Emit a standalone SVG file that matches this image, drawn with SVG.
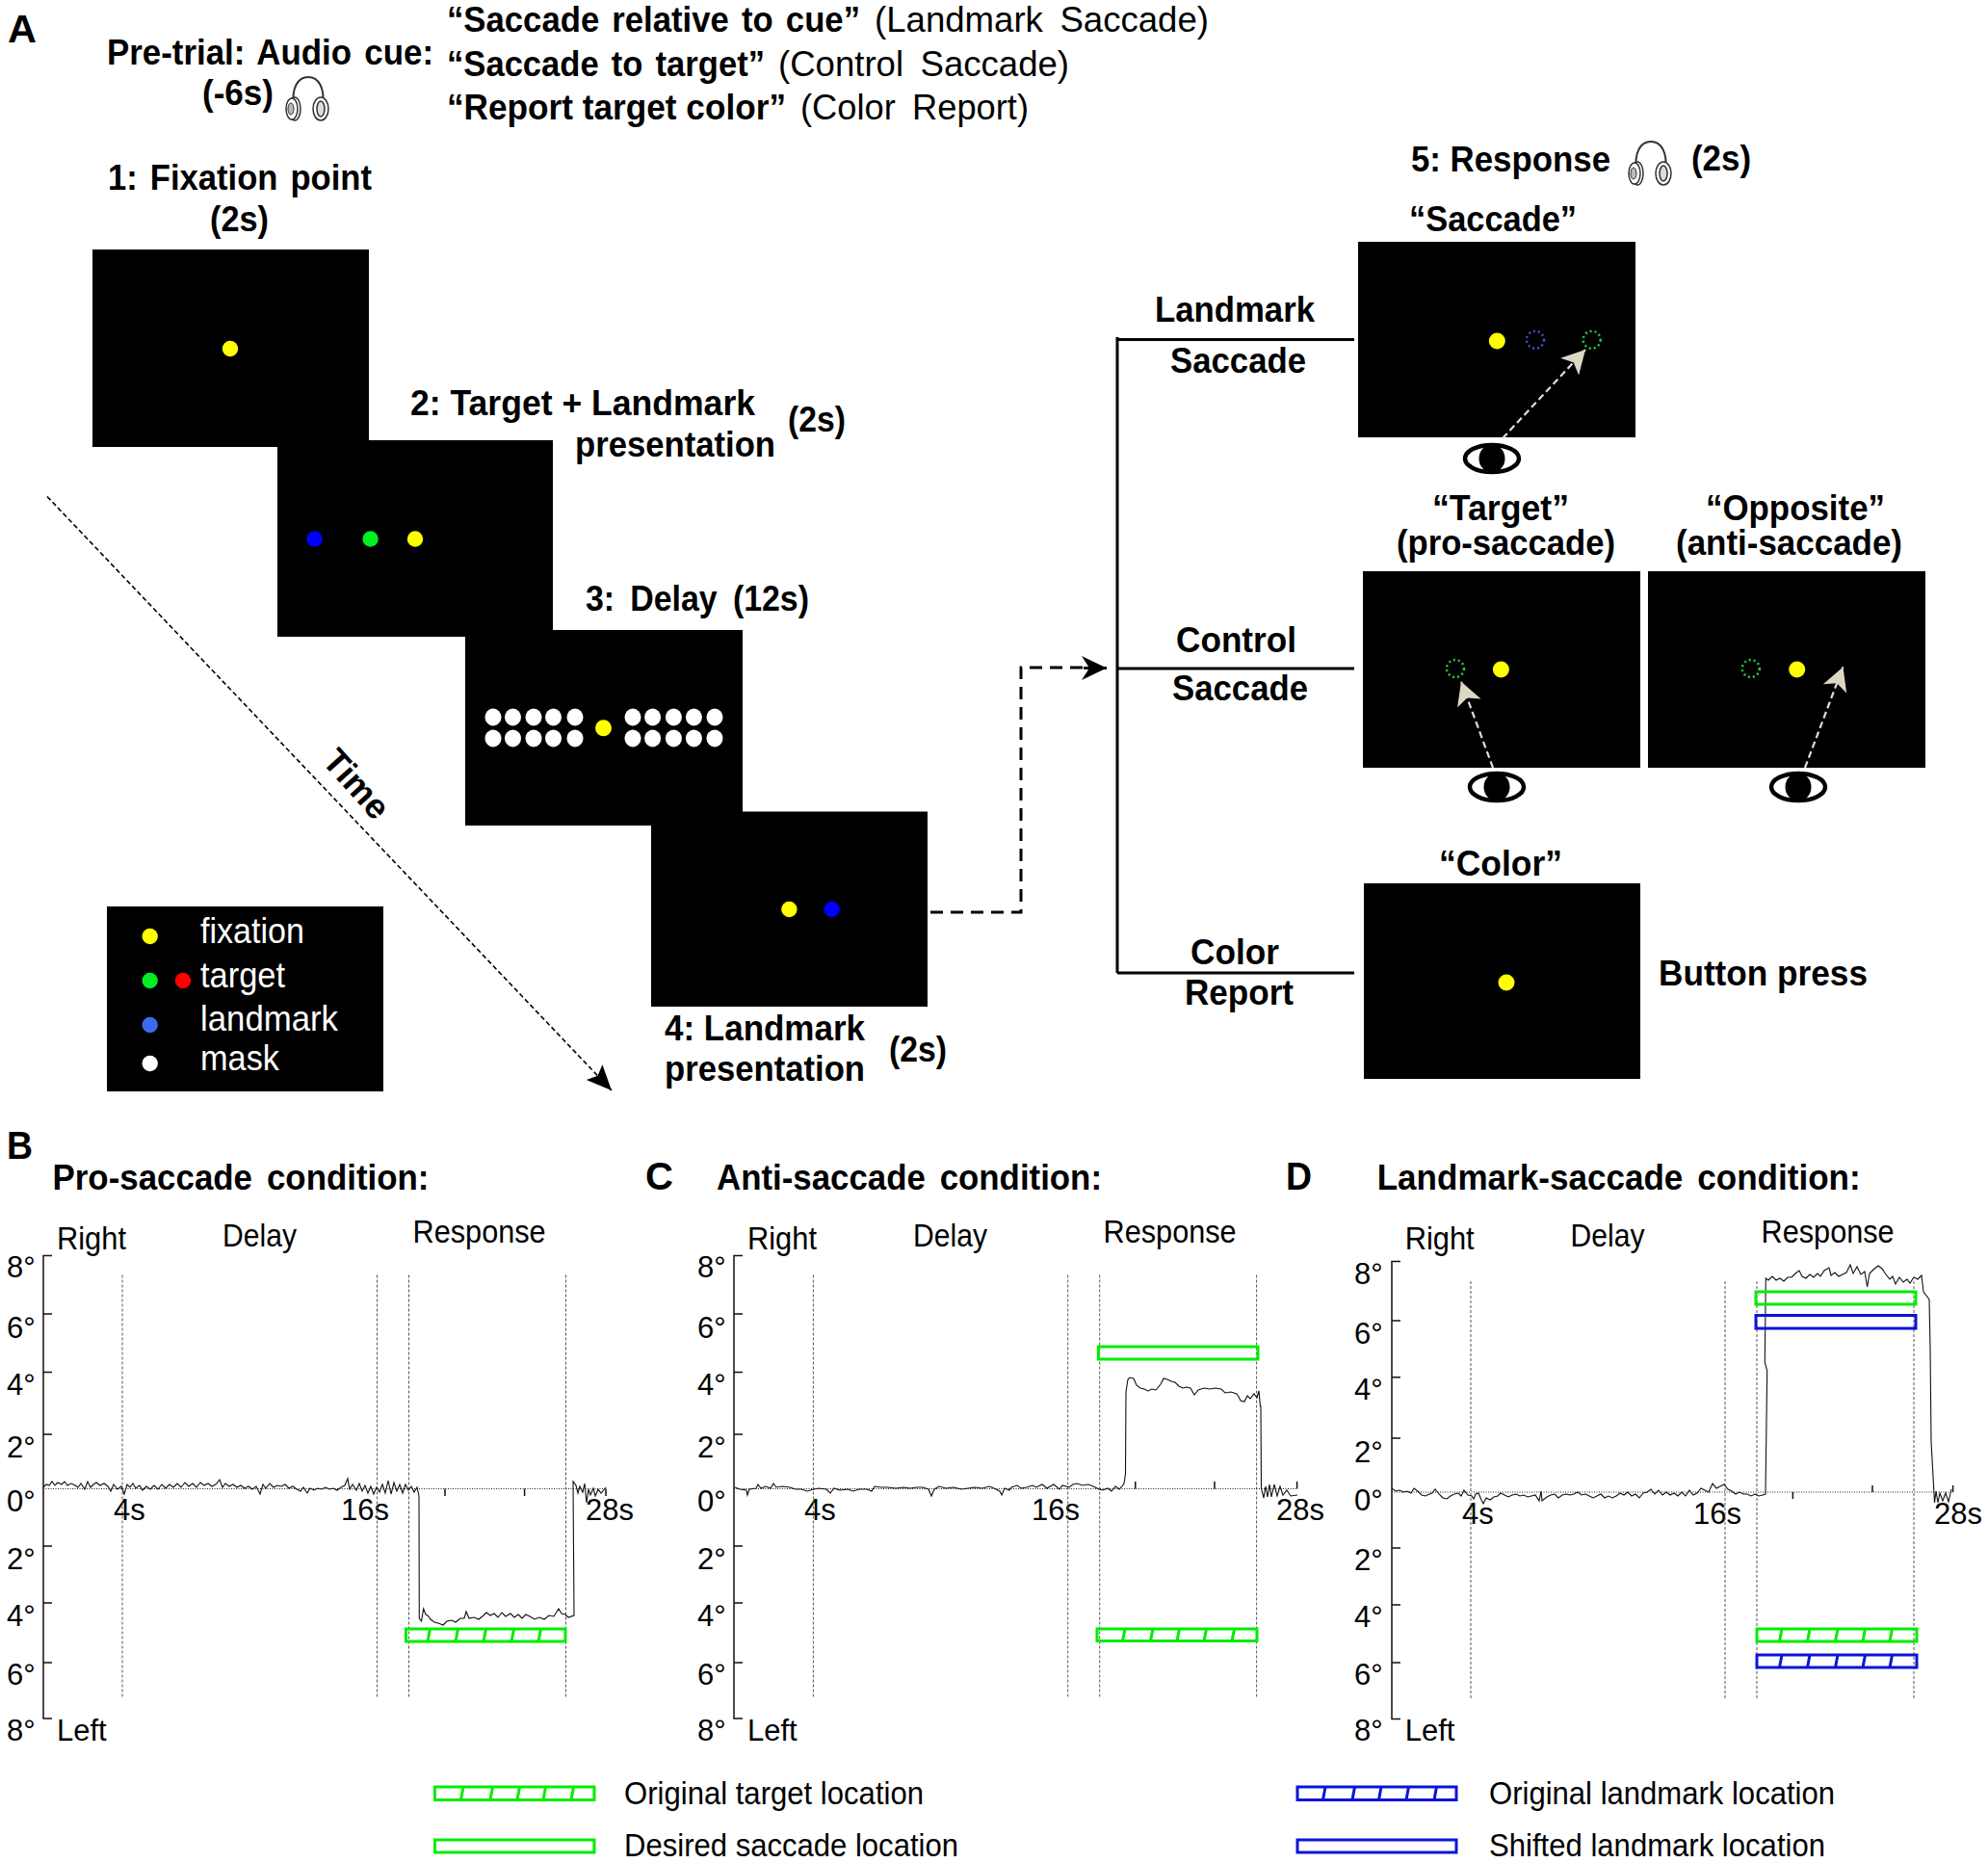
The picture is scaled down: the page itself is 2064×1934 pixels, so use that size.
<svg xmlns="http://www.w3.org/2000/svg" xmlns:xlink="http://www.w3.org/1999/xlink" width="2064" height="1934" viewBox="0 0 2064 1934">
<style>
text{font-family:"Liberation Sans",Arial,sans-serif;fill:#000}
.b{font-weight:700;font-size:36px}
.t{font-weight:700;font-size:36px;word-spacing:.15em}
.r{font-size:33px}
.d{font-size:31px}
.n{font-size:36px}
.L{font-weight:700;font-size:41px}
.w{fill:#fff;font-size:36px}
.p{fill:#000}
.tr{fill:none;stroke:#111;stroke-width:1.1}
.ax{fill:none;stroke:#111;stroke-width:1.5}
.vd{stroke:#555;stroke-width:1;stroke-dasharray:3 2;fill:none}
.zd{stroke:#222;stroke-width:1;stroke-dasharray:1 1.5;fill:none}
.gb{fill:none;stroke:#0e0;stroke-width:3}
.bb{fill:none;stroke:#0a14d8;stroke-width:3}
.y{fill:#ff0}.g{fill:#0e2}.bl{fill:#00f}.wh{fill:#fff}
.dg{fill:none;stroke:#22cc44;stroke-width:2.5;stroke-dasharray:2 3}
.db{fill:none;stroke:#3355dd;stroke-width:2.5;stroke-dasharray:2 3}
.sh{fill:none;stroke:#ddd;stroke-width:2.2;stroke-dasharray:7 4;marker-end:url(#hb)}
.ln{fill:none;stroke:#000;stroke-width:3}
</style>
<defs>
<marker id="hb" viewBox="0 -14 24 28" markerWidth="24" markerHeight="28" markerUnits="userSpaceOnUse" refX="24" refY="0" orient="auto"><path d="M24 0L0-13L6 0L0 13Z" fill="#dcd7c3"/></marker>
<marker id="hk" viewBox="0 -12 26 24" markerWidth="26" markerHeight="24" markerUnits="userSpaceOnUse" refX="26" refY="0" orient="auto"><path d="M26 0L0-11.5L5 0L0 11.5Z" fill="#000"/></marker>
<marker id="hd" viewBox="0 -13 26 26" markerWidth="26" markerHeight="26" markerUnits="userSpaceOnUse" refX="26" refY="0" orient="auto"><path d="M26 0L0-12.5L8 0L0 12.5Z" fill="#000"/></marker>
<g id="eye"><ellipse rx="28" ry="14" fill="#fff" stroke="#000" stroke-width="4.5"/><ellipse rx="13.5" ry="14.5" fill="#000"/></g>
<g id="phones" fill="none" stroke="#333">
<path d="M-15 22C-18 0-10-10 0-10C10-10 18 0 15 22" stroke-width="2"/>
<ellipse cx="-14" cy="23" rx="6" ry="12" fill="#fff" stroke-width="1.5"/>
<ellipse cx="-17" cy="23" rx="6" ry="11" fill="#fff" stroke-width="1.5"/>
<ellipse cx="-18" cy="23" rx="3" ry="6" fill="#bbb" stroke-width="1"/>
<ellipse cx="13" cy="23" rx="8" ry="12" fill="#fff" stroke-width="1.5"/>
<ellipse cx="13" cy="23" rx="4" ry="8" fill="#ddd" stroke-width="1.5"/>
</g>
</defs>
<rect width="2064" height="1934" fill="#fff"/>

<g id="header">
<text class="L" x="8" y="44" textLength="30" lengthAdjust="spacingAndGlyphs">A</text>
<text class="b" x="111" y="67" textLength="339" lengthAdjust="spacingAndGlyphs" style="word-spacing:.1em">Pre-trial: Audio cue:</text>
<text class="b" x="210" y="109" textLength="74" lengthAdjust="spacingAndGlyphs">(-6s)</text>
<use xlink:href="#phones" href="#phones" x="320" y="90"/>
<text class="b" x="464" y="33" textLength="429" lengthAdjust="spacingAndGlyphs" style="word-spacing:.1em">“Saccade relative to cue”</text>
<text class="n" x="908" y="33" textLength="347" lengthAdjust="spacingAndGlyphs" style="word-spacing:.2em">(Landmark Saccade)</text>
<text class="b" x="464" y="79" textLength="330" lengthAdjust="spacingAndGlyphs" style="word-spacing:.1em">“Saccade to target”</text>
<text class="n" x="808" y="79" textLength="302" lengthAdjust="spacingAndGlyphs" style="word-spacing:.2em">(Control Saccade)</text>
<text class="b" x="464" y="124" textLength="352" lengthAdjust="spacingAndGlyphs">“Report target color”</text>
<text class="n" x="831" y="124" textLength="237" lengthAdjust="spacingAndGlyphs" style="word-spacing:.2em">(Color Report)</text>
</g>

<g id="connectors">
<path class="ln" d="M1160 350V1010M1160 352.5H1406M1160 694H1406M1160 1010H1406"/>
<path fill="none" stroke="#000" stroke-width="3" stroke-dasharray="13 8" d="M966 947H1060V693H1125" />
<path fill="none" stroke="#000" stroke-width="3" d="M1125 693.5H1149" marker-end="url(#hd)"/>
<path fill="none" stroke="#000" stroke-width="1.6" stroke-dasharray="5 3" d="M49 515.5L635 1132" marker-end="url(#hk)"/>
</g>
<text id="time-label" class="b" x="370" y="826" text-anchor="middle" transform="rotate(48 370 814)">Time</text>

<g id="step1">
<rect x="96" y="259" width="287" height="205" class="p"/>
<circle cx="239" cy="362" r="8.2" class="y"/>
<text class="b" x="112" y="197" textLength="274" lengthAdjust="spacingAndGlyphs" style="word-spacing:.1em">1: Fixation point</text>
<text class="b" x="218" y="240" textLength="61" lengthAdjust="spacingAndGlyphs">(2s)</text>
</g>
<g id="step2">
<rect x="288" y="457" width="286" height="204" class="p"/>
<circle cx="326.5" cy="559.5" r="8.2" class="bl"/><circle cx="384.6" cy="559.5" r="8.2" class="g"/><circle cx="431" cy="559.5" r="8.2" class="y"/>
<text class="b" x="426" y="431" textLength="358" lengthAdjust="spacingAndGlyphs">2: Target + Landmark</text>
<text class="b" x="597" y="473.5" textLength="208" lengthAdjust="spacingAndGlyphs">presentation</text>
<text class="b" x="818" y="448" textLength="60" lengthAdjust="spacingAndGlyphs">(2s)</text>
</g>
<g id="step3">
<rect x="483" y="654" width="288" height="203" class="p"/>
<g class="wh">
<ellipse cx="512" cy="744.5" rx="8.5" ry="9"/><ellipse cx="532.5" cy="744.5" rx="8.5" ry="9"/><ellipse cx="554" cy="744.5" rx="8.5" ry="9"/><ellipse cx="574.5" cy="744.5" rx="8.5" ry="9"/><ellipse cx="597" cy="744.5" rx="8.5" ry="9"/>
<ellipse cx="657" cy="744.5" rx="8.5" ry="9"/><ellipse cx="677.6" cy="744.5" rx="8.5" ry="9"/><ellipse cx="699.4" cy="744.5" rx="8.5" ry="9"/><ellipse cx="720.4" cy="744.5" rx="8.5" ry="9"/><ellipse cx="742" cy="744.5" rx="8.5" ry="9"/>
<ellipse cx="512" cy="766.5" rx="8.5" ry="9"/><ellipse cx="532.5" cy="766.5" rx="8.5" ry="9"/><ellipse cx="554" cy="766.5" rx="8.5" ry="9"/><ellipse cx="574.5" cy="766.5" rx="8.5" ry="9"/><ellipse cx="597" cy="766.5" rx="8.5" ry="9"/>
<ellipse cx="657" cy="766.5" rx="8.5" ry="9"/><ellipse cx="677.6" cy="766.5" rx="8.5" ry="9"/><ellipse cx="699.4" cy="766.5" rx="8.5" ry="9"/><ellipse cx="720.4" cy="766.5" rx="8.5" ry="9"/><ellipse cx="742" cy="766.5" rx="8.5" ry="9"/>
</g>
<circle cx="626.5" cy="755.7" r="8.5" class="y"/>
<text class="b" x="608" y="634" textLength="232" lengthAdjust="spacingAndGlyphs" style="word-spacing:.2em">3: Delay (12s)</text>
</g>
<g id="step4">
<rect x="676" y="842.5" width="287" height="202.5" class="p"/>
<circle cx="819.4" cy="944" r="8.2" class="y"/><circle cx="863.6" cy="944" r="8.2" class="bl"/>
<text class="b" x="690" y="1080" textLength="208" lengthAdjust="spacingAndGlyphs">4: Landmark</text>
<text class="b" x="690" y="1122" textLength="208" lengthAdjust="spacingAndGlyphs">presentation</text>
<text class="b" x="923" y="1102" textLength="60" lengthAdjust="spacingAndGlyphs">(2s)</text>
</g>
<g id="key">
<rect x="111" y="941" width="287" height="192" class="p"/>
<circle cx="155.7" cy="972" r="8.2" class="y"/><circle cx="155.7" cy="1018" r="8.2" class="g"/><circle cx="190" cy="1018" r="8.2" fill="#f00"/><circle cx="155.7" cy="1064" r="8.2" fill="#3a6af0"/><circle cx="155.7" cy="1104" r="8.2" class="wh"/>
<text class="w" x="208" y="979" textLength="108" lengthAdjust="spacingAndGlyphs">fixation</text>
<text class="w" x="208" y="1025" textLength="88" lengthAdjust="spacingAndGlyphs">target</text>
<text class="w" x="208" y="1070" textLength="143" lengthAdjust="spacingAndGlyphs">landmark</text>
<text class="w" x="208" y="1111" textLength="82" lengthAdjust="spacingAndGlyphs">mask</text>
</g>

<g id="response-title">
<text class="b" x="1465" y="178" textLength="207" lengthAdjust="spacingAndGlyphs">5: Response</text>
<use xlink:href="#phones" href="#phones" x="1714" y="157"/>
<text class="b" x="1756" y="177" textLength="62" lengthAdjust="spacingAndGlyphs">(2s)</text>
</g>
<g id="branch-labels">
<text class="b" x="1199" y="333.5" textLength="166" lengthAdjust="spacingAndGlyphs">Landmark</text>
<text class="b" x="1215" y="387" textLength="141" lengthAdjust="spacingAndGlyphs">Saccade</text>
<text class="b" x="1221" y="677" textLength="125" lengthAdjust="spacingAndGlyphs">Control</text>
<text class="b" x="1217" y="727" textLength="141" lengthAdjust="spacingAndGlyphs">Saccade</text>
<text class="b" x="1236" y="1001" textLength="92" lengthAdjust="spacingAndGlyphs">Color</text>
<text class="b" x="1230" y="1043" textLength="113" lengthAdjust="spacingAndGlyphs">Report</text>
</g>
<g id="resp-saccade">
<rect x="1410" y="251" width="288" height="203" class="p"/>
<circle cx="1554.3" cy="354" r="8.5" class="y"/><circle cx="1594" cy="352.7" r="9" class="db"/><circle cx="1652.7" cy="352.7" r="9" class="dg"/>
<path class="sh" d="M1560 455L1646 363"/>
<use xlink:href="#eye" href="#eye" x="1549" y="476"/>
<text class="b" x="1463" y="240" textLength="174" lengthAdjust="spacingAndGlyphs">“Saccade”</text>
</g>
<g id="resp-target">
<rect x="1415" y="593" width="288" height="204" class="p"/>
<circle cx="1511" cy="694" r="9" class="dg"/><circle cx="1558.4" cy="695" r="8.5" class="y"/>
<path class="sh" d="M1550 797L1517 707.6"/>
<use xlink:href="#eye" href="#eye" x="1554" y="817"/>
<text class="b" x="1487" y="540" textLength="142" lengthAdjust="spacingAndGlyphs">“Target”</text>
<text class="b" x="1450" y="576" textLength="227" lengthAdjust="spacingAndGlyphs">(pro-saccade)</text>
</g>
<g id="resp-opposite">
<rect x="1711" y="593" width="288" height="204" class="p"/>
<circle cx="1817.8" cy="694" r="9" class="dg"/><circle cx="1865.7" cy="695" r="8.5" class="y"/>
<path class="sh" d="M1874 797L1913.5 692.4"/>
<use xlink:href="#eye" href="#eye" x="1867" y="817"/>
<text class="b" x="1771" y="540" textLength="186" lengthAdjust="spacingAndGlyphs">“Opposite”</text>
<text class="b" x="1740" y="576" textLength="235" lengthAdjust="spacingAndGlyphs">(anti-saccade)</text>
</g>
<g id="resp-color">
<rect x="1416" y="917" width="287" height="203" class="p"/>
<circle cx="1564" cy="1020" r="8.5" class="y"/>
<text class="b" x="1494" y="908.5" textLength="128" lengthAdjust="spacingAndGlyphs">“Color”</text>
<text class="b" x="1722" y="1023" textLength="217" lengthAdjust="spacingAndGlyphs">Button press</text>
</g>

<g id="panel-B">
<text class="L" x="7" y="1203" font-size="39" textLength="27" lengthAdjust="spacingAndGlyphs">B</text>
<text class="t" x="54.5" y="1235.4" textLength="391" lengthAdjust="spacingAndGlyphs">Pro-saccade condition:</text>
<text class="r" x="59" y="1297" textLength="72" lengthAdjust="spacingAndGlyphs">Right</text>
<text class="r" x="231" y="1294" textLength="77" lengthAdjust="spacingAndGlyphs">Delay</text>
<text class="r" x="428.6" y="1290" textLength="138" lengthAdjust="spacingAndGlyphs">Response</text>
<text class="d" x="7" y="1326">8°</text><text class="d" x="7" y="1388.5">6°</text><text class="d" x="7" y="1448">4°</text><text class="d" x="7" y="1513.4">2°</text><text class="d" x="7" y="1568.5">0°</text><text class="d" x="7" y="1629">2°</text><text class="d" x="7" y="1688">4°</text><text class="d" x="7" y="1749">6°</text><text class="d" x="7" y="1807">8°</text>
<text class="d" x="118" y="1578.4">4s</text><text class="d" x="354" y="1578.4">16s</text><text class="d" x="608" y="1578.4">28s</text>
<text class="d" x="59" y="1807">Left</text>
<path class="ax" d="M54 1303.5H45V1784H54M45 1364H54M45 1424.5H54M45 1489H54M45 1605H54M45 1664H54M45 1726H54"/>
<path class="vd" d="M127 1323.5V1763.6M391.5 1323.5V1763.6M424.5 1323.5V1763.6M587.5 1323.5V1763.6"/>
<path class="zd" d="M45 1545.5H629"/>
<path class="ax" stroke-width="1" d="M462 1545.5V1553M544.6 1545.5V1553M629 1545.5V1553"/>
<polyline class="tr" points="45,1544 48,1541 51,1542 54,1538 57,1542 60,1539 64,1541 67,1538 70,1542 74,1540 78,1542 81,1544 84,1540 88,1546 91,1538 94,1544 97,1541 100,1539 104,1542 108,1540 112,1543 115,1548 118,1541 122,1546 126,1543 129,1551 132,1541 135,1544 138,1540 141,1545 145,1542 148,1547 152,1543 156,1546 160,1542 164,1546 168,1541 172,1545 176,1541 180,1544 184,1540 188,1544 192,1539 196,1543 200,1540 204,1544 208,1539 212,1542 216,1540 220,1543 224,1541 228,1536 231,1544 234,1540 238,1543 242,1541 246,1544 250,1542 254,1545 258,1543 262,1546 266,1543 270,1551 273,1541 276,1545 280,1540 284,1544 288,1542 292,1543 296,1541 300,1545 304,1543 308,1546 312,1548 315,1544 319,1550 322,1545 326,1547 330,1545 334,1546 338,1544 342,1546 346,1545 350,1547 354,1544 358,1542 361,1535 363,1546 366,1541 370,1547 373,1540 376,1548 379,1542 382,1550 385,1543 388,1551 391,1544 394,1549 397,1541 400,1550 403,1537 406,1551 409,1539 412,1548 415,1541 418,1550 421,1541 424,1547 427,1543 430,1549 433,1544 435,1553 435.3,1680 437.5,1683 439.7,1670 442,1676 444,1677 447,1681 451,1684 455,1685 460,1687 464,1683 469,1682 473,1684 478,1680 482,1680 484,1673 487,1680 492,1679 497,1681 502,1677 505,1674 509,1677 513,1675 517,1679 521,1674 525,1678 530,1675 534,1679 538,1676 542,1680 546,1676 550,1678 555,1681 560,1679 565,1681 570,1677 575,1678 580,1670 583,1675 587,1676 590,1679 596,1677 595,1538 598,1542 600,1550 602,1543 605,1549 607,1540 609,1560 611,1546 613,1552 616,1545 618,1553 621,1546 624,1550 629,1544"/>
<rect class="gb" x="421.4" y="1691" width="165.6" height="13"/>
<path class="gb" stroke-width="2.5" d="M444 1704L446.5 1691M473 1704L475.5 1691M502 1704L504.5 1691M531 1704L533.5 1691M559 1704L561.5 1691"/>
</g>

<g id="panel-C">
<text class="L" x="670" y="1235" font-size="39" textLength="29" lengthAdjust="spacingAndGlyphs">C</text>
<text class="t" x="744" y="1235.4" textLength="400" lengthAdjust="spacingAndGlyphs">Anti-saccade condition:</text>
<text class="r" x="776" y="1297" textLength="72" lengthAdjust="spacingAndGlyphs">Right</text>
<text class="r" x="948" y="1294" textLength="77" lengthAdjust="spacingAndGlyphs">Delay</text>
<text class="r" x="1145.6" y="1290" textLength="138" lengthAdjust="spacingAndGlyphs">Response</text>
<text class="d" x="724" y="1326">8°</text><text class="d" x="724" y="1388.5">6°</text><text class="d" x="724" y="1448">4°</text><text class="d" x="724" y="1513.4">2°</text><text class="d" x="724" y="1568.5">0°</text><text class="d" x="724" y="1629">2°</text><text class="d" x="724" y="1688">4°</text><text class="d" x="724" y="1749">6°</text><text class="d" x="724" y="1807">8°</text>
<text class="d" x="835" y="1578.4">4s</text><text class="d" x="1071" y="1578.4">16s</text><text class="d" x="1325" y="1578.4">28s</text>
<text class="d" x="776" y="1807">Left</text>
<path class="ax" d="M771 1303.5H762V1784H771M762 1364H771M762 1424.5H771M762 1489H771M762 1605H771M762 1664H771M762 1726H771"/>
<path class="vd" d="M844.4 1323.5V1763.6M1108.7 1323.5V1763.6M1141.7 1323.5V1763.6M1304.6 1323.5V1763.6"/>
<path class="zd" d="M762 1545.5H1347"/>
<path class="ax" stroke-width="1" d="M1178.8 1545.5V1538M1261 1545.5V1538M1346.6 1545.5V1538"/>
<polyline class="tr" points="763,1544 768,1546 775,1547 776,1552 778,1546 785,1545 787,1541 790,1545 795,1543 800,1545 803,1540 806,1544 812,1543 820,1544 826,1546 832,1546 838,1548 845,1546 850,1545 858,1546 862,1550 866,1545 872,1547 880,1546 886,1548 892,1546 900,1546 905,1548 908,1543 915,1544 922,1544 930,1545 938,1544 945,1545 952,1544 958,1544 964,1546 967,1553 970,1546 975,1543 982,1545 990,1544 998,1546 1005,1545 1012,1544 1020,1545 1027,1543 1032,1545 1038,1548 1040,1552 1043,1545 1048,1547 1050,1544 1056,1542 1060,1545 1066,1544 1072,1542 1076,1544 1082,1541 1087,1545 1094,1541 1100,1546 1103,1542 1110,1544 1114,1541 1118,1540 1124,1542 1130,1541 1135,1543 1141,1546 1145,1547 1150,1545 1154,1548 1158,1543 1162,1546 1165,1543 1167,1540 1168.5,1530 1169,1445 1171,1432 1173,1430 1177,1431 1180,1438 1184,1441 1188,1442 1192,1444 1196,1442 1200,1443 1205,1437 1208,1431 1212,1432 1216,1434 1220,1435 1224,1439 1228,1441 1232,1440 1236,1441 1240,1448 1244,1443 1250,1441 1256,1442 1262,1441 1268,1442 1272,1446 1278,1445 1284,1447 1286,1450 1288,1454 1292,1455 1295,1449 1298,1452 1302,1447 1305,1451 1307,1444 1308.5,1460 1309,1460 1309.5,1545 1312,1555 1314,1543 1316,1554 1318,1541 1320,1554 1323,1541 1326,1553 1329,1543 1332,1552 1336,1547 1340,1553 1347,1552"/>
<rect class="gb" x="1140.4" y="1398" width="165.6" height="13"/>
<rect class="gb" x="1139" y="1691" width="166" height="12.5"/>
<path class="gb" stroke-width="2.5" d="M1165.5 1703.5L1168 1691M1194.5 1703.5L1197 1691M1222 1703.5L1224.5 1691M1250 1703.5L1252.5 1691M1279 1703.5L1281.5 1691"/>
</g>

<g id="panel-D">
<text class="L" x="1335" y="1235" font-size="39" textLength="27" lengthAdjust="spacingAndGlyphs">D</text>
<text class="t" x="1429.7" y="1235.4" textLength="502" lengthAdjust="spacingAndGlyphs">Landmark-saccade condition:</text>
<text class="r" x="1458.7" y="1297" textLength="72" lengthAdjust="spacingAndGlyphs">Right</text>
<text class="r" x="1630.6" y="1294" textLength="77" lengthAdjust="spacingAndGlyphs">Delay</text>
<text class="r" x="1828.6" y="1290" textLength="138" lengthAdjust="spacingAndGlyphs">Response</text>
<text class="d" x="1406" y="1333">8°</text><text class="d" x="1406" y="1395">6°</text><text class="d" x="1406" y="1453">4°</text><text class="d" x="1406" y="1518">2°</text><text class="d" x="1406" y="1567.6">0°</text><text class="d" x="1406" y="1630">2°</text><text class="d" x="1406" y="1689">4°</text><text class="d" x="1406" y="1749">6°</text><text class="d" x="1406" y="1807">8°</text>
<text class="d" x="1518" y="1581.5">4s</text><text class="d" x="1758" y="1581.5">16s</text><text class="d" x="2008" y="1581.5">28s</text>
<text class="d" x="1458.7" y="1807">Left</text>
<path class="ax" d="M1454 1309.6H1445V1784.4H1454M1445 1371H1454M1445 1429.7H1454M1445 1493H1454M1445 1607H1454M1445 1666H1454M1445 1726H1454"/>
<path class="vd" d="M1527 1330V1763.6M1791 1330V1763.6M1824 1330V1763.6M1987 1330V1763.6"/>
<path class="zd" d="M1445 1549H2028"/>
<path class="ax" stroke-width="1" d="M1861.4 1549V1556M1944 1549V1542M2027.6 1549V1542"/>
<polyline class="tr" points="1445,1545 1449,1548 1453,1547 1457,1549 1461,1548 1465,1550 1468,1545 1472,1548 1476,1552 1480,1553 1484,1551 1487,1550 1490,1546 1494,1551 1498,1555 1502,1556 1506,1553 1510,1551 1514,1550 1517,1553 1520,1547 1524,1552 1528,1553 1530,1556 1532,1551 1535,1550 1538,1557 1540,1561 1543,1555 1547,1557 1551,1554 1555,1553 1558,1550 1562,1552 1566,1554 1570,1552 1574,1551 1578,1553 1582,1552 1586,1554 1590,1553 1594,1552 1598,1558 1600,1548 1601,1558 1606,1554 1610,1552 1614,1551 1618,1555 1622,1552 1626,1551 1630,1552 1634,1551 1638,1549 1642,1552 1646,1551 1650,1553 1654,1555 1658,1553 1662,1551 1666,1555 1670,1553 1674,1555 1678,1553 1682,1550 1686,1552 1690,1549 1694,1553 1698,1551 1702,1555 1706,1550 1710,1549 1714,1546 1718,1551 1722,1547 1726,1552 1730,1549 1734,1552 1738,1550 1742,1553 1746,1549 1750,1553 1754,1547 1758,1552 1762,1550 1766,1545 1770,1547 1774,1549 1778,1540 1782,1545 1786,1543 1790,1541 1794,1546 1798,1548 1802,1551 1806,1549 1810,1551 1814,1551 1818,1553 1822,1551 1826,1553 1830,1552 1833,1551 1834.7,1423 1832.3,1414 1833.3,1327 1836,1329 1840,1325 1844,1329 1848,1327 1852,1330 1856,1326 1860,1326 1864,1322 1868,1319 1871,1325 1875,1327 1879,1323 1883,1326 1887,1322 1890,1325 1894,1319 1899,1316 1901,1324 1905,1321 1909,1325 1913,1323 1917,1321 1921,1313 1924,1322 1928,1315 1932,1323 1936,1320 1938.6,1336 1941,1322 1945,1318 1950,1314 1954,1317 1958,1323 1962,1328 1965,1325 1968,1333 1972,1326 1976,1331 1980,1328 1983,1332 1987,1326 1991,1328 1995,1324 1997,1341 2000,1345 2003,1349 2004,1400 2005,1497 2007.4,1540 2008.5,1560 2010,1548 2012,1560 2014,1550 2017,1558 2020,1550 2023,1559 2026,1546"/>
<rect class="gb" x="1823" y="1341" width="166" height="13"/>
<rect class="bb" x="1823" y="1365.5" width="166" height="13.5"/>
<rect class="gb" x="1824" y="1691" width="166" height="13"/>
<path class="gb" stroke-width="2.5" d="M1847.5 1704L1850 1691M1876.5 1704L1879 1691M1905.5 1704L1908 1691M1934 1704L1936.5 1691M1962 1704L1964.5 1691"/>
<rect class="bb" x="1824" y="1718" width="166" height="13"/>
<path class="bb" stroke-width="2.5" d="M1847.5 1731L1850 1718M1876.5 1731L1879 1718M1905.5 1731L1908 1718M1934 1731L1936.5 1718M1962 1731L1964.5 1718"/>
</g>

<g id="legend">
<rect class="gb" x="451.5" y="1855" width="165.5" height="13.5"/>
<path class="gb" stroke-width="2.5" d="M478.5 1868.5L481 1855M509 1868.5L511.5 1855M537 1868.5L539.5 1855M564 1868.5L566.5 1855M593 1868.5L595.5 1855"/>
<rect class="gb" x="451.5" y="1910" width="165.5" height="13"/>
<rect class="bb" x="1347" y="1855" width="165" height="13.5"/>
<path class="bb" stroke-width="2.5" d="M1373.5 1868.5L1376 1855M1404 1868.5L1406.5 1855M1431.5 1868.5L1434 1855M1460 1868.5L1462.5 1855M1489 1868.5L1491.5 1855"/>
<rect class="bb" x="1347" y="1910" width="165" height="13"/>
<text class="r" x="648" y="1873" textLength="311" lengthAdjust="spacingAndGlyphs">Original target location</text>
<text class="r" x="648" y="1927" textLength="347" lengthAdjust="spacingAndGlyphs">Desired saccade location</text>
<text class="r" x="1546" y="1873" textLength="359" lengthAdjust="spacingAndGlyphs">Original landmark location</text>
<text class="r" x="1546" y="1927" textLength="349" lengthAdjust="spacingAndGlyphs">Shifted landmark location</text>
</g>
</svg>
